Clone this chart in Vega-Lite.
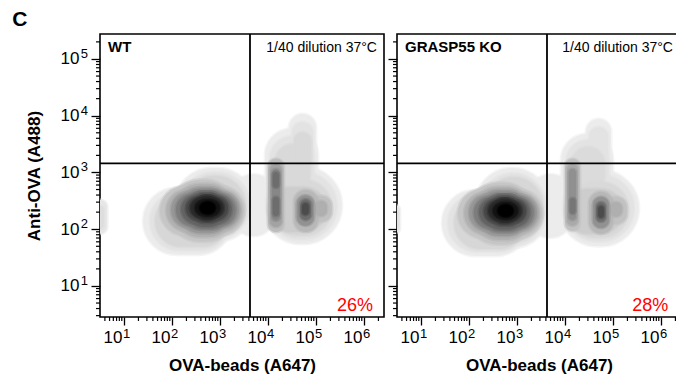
{
  "$schema": "https://vega.github.io/schema/vega-lite/v6.json",
  "padding": {"left": 12, "top": 9, "right": 0, "bottom": 0},
  "title": {"text": "C", "anchor": "start", "frame": "bounds", "fontSize": 21, "fontWeight": "bold", "font": "Liberation Sans", "color": "#000", "dx": -12, "offset": 2},
  "spacing": 0,
  "config": {
    "font": "Liberation Sans",
    "axis": {"domain": false, "grid": false, "labelFont": "Liberation Sans", "titleFont": "Liberation Sans", "labelColor": "#000", "titleColor": "#000", "tickColor": "#000"},
    "view": {"stroke": "#000", "strokeWidth": 1.6},
    "text": {"font": "Liberation Sans"}
  },
  "datasets": {
    "density": [
      {"panel":"WT","x1":1.40,"x2":3.25,"y1":2.73,"y2":1.55,"d":0},
      {"panel":"WT","x1":2.06,"x2":3.71,"y1":3.08,"y2":1.78,"d":0},
      {"panel":"WT","x1":1.54,"x2":3.21,"y1":2.66,"y2":1.62,"d":0.04},
      {"panel":"WT","x1":2.17,"x2":3.63,"y1":3.01,"y2":1.83,"d":0.04},
      {"panel":"WT","x1":1.65,"x2":3.17,"y1":2.60,"y2":1.69,"d":0.09},
      {"panel":"WT","x1":2.25,"x2":3.54,"y1":2.94,"y2":1.88,"d":0.09},
      {"panel":"WT","x1":1.75,"x2":3.52,"y1":2.76,"y2":1.89,"d":0.16},
      {"panel":"WT","x1":1.93,"x2":3.34,"y1":2.87,"y2":1.78,"d":0.16},
      {"panel":"WT","x1":1.88,"x2":3.46,"y1":2.70,"y2":1.96,"d":0.25},
      {"panel":"WT","x1":2.03,"x2":3.30,"y1":2.80,"y2":1.86,"d":0.25},
      {"panel":"WT","x1":1.98,"x2":3.40,"y1":2.66,"y2":2.02,"d":0.36},
      {"panel":"WT","x1":2.12,"x2":3.25,"y1":2.74,"y2":1.93,"d":0.36},
      {"panel":"WT","x1":2.08,"x2":3.33,"y1":2.62,"y2":2.06,"d":0.47},
      {"panel":"WT","x1":2.21,"x2":3.21,"y1":2.69,"y2":1.99,"d":0.47},
      {"panel":"WT","x1":2.19,"x2":3.25,"y1":2.60,"y2":2.10,"d":0.58},
      {"panel":"WT","x1":2.29,"x2":3.14,"y1":2.66,"y2":2.04,"d":0.58},
      {"panel":"WT","x1":2.29,"x2":3.17,"y1":2.57,"y2":2.16,"d":0.7},
      {"panel":"WT","x1":2.38,"x2":3.08,"y1":2.62,"y2":2.11,"d":0.7},
      {"panel":"WT","x1":2.38,"x2":3.08,"y1":2.54,"y2":2.21,"d":0.82},
      {"panel":"WT","x1":2.45,"x2":3.01,"y1":2.59,"y2":2.16,"d":0.82},
      {"panel":"WT","x1":2.48,"x2":3.00,"y1":2.50,"y2":2.25,"d":0.92},
      {"panel":"WT","x1":2.53,"x2":2.95,"y1":2.53,"y2":2.22,"d":0.92},
      {"panel":"WT","x1":2.58,"x2":2.90,"y1":2.46,"y2":2.29,"d":1},
      {"panel":"WT","x1":2.62,"x2":2.87,"y1":2.48,"y2":2.27,"d":1},
      {"panel":"WT","x1":3.25,"x2":4.15,"y1":2.97,"y2":1.88,"d":0},
      {"panel":"WT","x1":3.88,"x2":5.54,"y1":3.10,"y2":1.74,"d":0},
      {"panel":"WT","x1":3.94,"x2":5.04,"y1":3.77,"y2":2.48,"d":0},
      {"panel":"WT","x1":4.44,"x2":5.00,"y1":4.03,"y2":3.10,"d":0},
      {"panel":"WT","x1":3.96,"x2":5.44,"y1":3.01,"y2":1.81,"d":0.04},
      {"panel":"WT","x1":4.04,"x2":4.96,"y1":3.64,"y2":2.57,"d":0.04},
      {"panel":"WT","x1":4.50,"x2":4.94,"y1":3.89,"y2":3.19,"d":0.04},
      {"panel":"WT","x1":4.04,"x2":5.33,"y1":2.87,"y2":1.88,"d":0.08},
      {"panel":"WT","x1":4.15,"x2":4.88,"y1":3.50,"y2":2.66,"d":0.08},
      {"panel":"WT","x1":4.54,"x2":4.90,"y1":3.71,"y2":3.10,"d":0.08},
      {"panel":"WT","x1":4.00,"x2":5.21,"y1":2.74,"y2":1.95,"d":0.13},
      {"panel":"WT","x1":4.00,"x2":4.33,"y1":3.24,"y2":1.95,"d":0.2},
      {"panel":"WT","x1":4.04,"x2":4.29,"y1":3.15,"y2":2.04,"d":0.31},
      {"panel":"WT","x1":4.08,"x2":4.25,"y1":3.06,"y2":2.15,"d":0.43},
      {"panel":"WT","x1":4.10,"x2":4.23,"y1":3.01,"y2":2.73,"d":0.54},
      {"panel":"WT","x1":4.10,"x2":4.23,"y1":2.57,"y2":2.23,"d":0.54},
      {"panel":"WT","x1":4.54,"x2":5.04,"y1":2.69,"y2":1.95,"d":0.22},
      {"panel":"WT","x1":4.60,"x2":4.96,"y1":2.60,"y2":2.06,"d":0.38},
      {"panel":"WT","x1":4.67,"x2":4.90,"y1":2.53,"y2":2.16,"d":0.54},
      {"panel":"WT","x1":4.71,"x2":4.85,"y1":2.46,"y2":2.25,"d":0.68},
      {"panel":"WT","x1":4.90,"x2":5.33,"y1":2.59,"y2":2.13,"d":0.18},
      {"panel":"WT","x1":4.98,"x2":5.23,"y1":2.50,"y2":2.23,"d":0.26},
      {"panel":"WT","x1":0.35,"x2":0.65,"y1":2.52,"y2":1.92,"d":0.02},
      {"panel":"WT","x1":0.40,"x2":0.58,"y1":2.41,"y2":2.00,"d":0.06},
      {"panel":"GRASP55 KO","x1":1.44,"x2":3.25,"y1":2.69,"y2":1.53,"d":0},
      {"panel":"GRASP55 KO","x1":2.13,"x2":3.67,"y1":3.08,"y2":1.67,"d":0},
      {"panel":"GRASP55 KO","x1":1.56,"x2":3.21,"y1":2.62,"y2":1.60,"d":0.04},
      {"panel":"GRASP55 KO","x1":2.23,"x2":3.60,"y1":2.99,"y2":1.72,"d":0.04},
      {"panel":"GRASP55 KO","x1":1.69,"x2":3.17,"y1":2.57,"y2":1.65,"d":0.09},
      {"panel":"GRASP55 KO","x1":2.31,"x2":3.54,"y1":2.92,"y2":1.78,"d":0.09},
      {"panel":"GRASP55 KO","x1":1.77,"x2":3.54,"y1":2.71,"y2":1.84,"d":0.16},
      {"panel":"GRASP55 KO","x1":1.95,"x2":3.36,"y1":2.82,"y2":1.73,"d":0.16},
      {"panel":"GRASP55 KO","x1":1.90,"x2":3.48,"y1":2.65,"y2":1.91,"d":0.25},
      {"panel":"GRASP55 KO","x1":2.05,"x2":3.32,"y1":2.75,"y2":1.81,"d":0.25},
      {"panel":"GRASP55 KO","x1":2.00,"x2":3.42,"y1":2.61,"y2":1.97,"d":0.36},
      {"panel":"GRASP55 KO","x1":2.14,"x2":3.27,"y1":2.69,"y2":1.88,"d":0.36},
      {"panel":"GRASP55 KO","x1":2.10,"x2":3.35,"y1":2.57,"y2":2.01,"d":0.47},
      {"panel":"GRASP55 KO","x1":2.23,"x2":3.23,"y1":2.64,"y2":1.94,"d":0.47},
      {"panel":"GRASP55 KO","x1":2.21,"x2":3.27,"y1":2.55,"y2":2.05,"d":0.58},
      {"panel":"GRASP55 KO","x1":2.31,"x2":3.16,"y1":2.61,"y2":1.99,"d":0.58},
      {"panel":"GRASP55 KO","x1":2.31,"x2":3.19,"y1":2.52,"y2":2.11,"d":0.7},
      {"panel":"GRASP55 KO","x1":2.40,"x2":3.10,"y1":2.57,"y2":2.06,"d":0.7},
      {"panel":"GRASP55 KO","x1":2.40,"x2":3.10,"y1":2.49,"y2":2.16,"d":0.82},
      {"panel":"GRASP55 KO","x1":2.47,"x2":3.03,"y1":2.54,"y2":2.11,"d":0.82},
      {"panel":"GRASP55 KO","x1":2.50,"x2":3.02,"y1":2.45,"y2":2.20,"d":0.92},
      {"panel":"GRASP55 KO","x1":2.55,"x2":2.97,"y1":2.48,"y2":2.17,"d":0.92},
      {"panel":"GRASP55 KO","x1":2.60,"x2":2.92,"y1":2.41,"y2":2.24,"d":1},
      {"panel":"GRASP55 KO","x1":2.64,"x2":2.89,"y1":2.43,"y2":2.22,"d":1},
      {"panel":"GRASP55 KO","x1":3.25,"x2":4.15,"y1":2.97,"y2":1.85,"d":0},
      {"panel":"GRASP55 KO","x1":3.88,"x2":5.54,"y1":3.04,"y2":1.70,"d":0},
      {"panel":"GRASP55 KO","x1":3.92,"x2":5.00,"y1":3.68,"y2":2.48,"d":0},
      {"panel":"GRASP55 KO","x1":4.44,"x2":4.96,"y1":3.94,"y2":3.10,"d":0},
      {"panel":"GRASP55 KO","x1":3.96,"x2":5.44,"y1":2.96,"y2":1.78,"d":0.04},
      {"panel":"GRASP55 KO","x1":4.02,"x2":4.92,"y1":3.57,"y2":2.57,"d":0.04},
      {"panel":"GRASP55 KO","x1":4.50,"x2":4.90,"y1":3.80,"y2":3.19,"d":0.04},
      {"panel":"GRASP55 KO","x1":4.04,"x2":5.33,"y1":2.83,"y2":1.85,"d":0.08},
      {"panel":"GRASP55 KO","x1":4.13,"x2":4.83,"y1":3.45,"y2":2.66,"d":0.07},
      {"panel":"GRASP55 KO","x1":4.00,"x2":5.21,"y1":2.71,"y2":1.92,"d":0.13},
      {"panel":"GRASP55 KO","x1":4.00,"x2":4.31,"y1":3.24,"y2":1.97,"d":0.18},
      {"panel":"GRASP55 KO","x1":4.04,"x2":4.27,"y1":3.15,"y2":2.06,"d":0.28},
      {"panel":"GRASP55 KO","x1":4.08,"x2":4.23,"y1":3.06,"y2":2.16,"d":0.39},
      {"panel":"GRASP55 KO","x1":4.10,"x2":4.22,"y1":2.55,"y2":2.27,"d":0.5},
      {"panel":"GRASP55 KO","x1":4.50,"x2":5.00,"y1":2.66,"y2":1.92,"d":0.22},
      {"panel":"GRASP55 KO","x1":4.58,"x2":4.92,"y1":2.57,"y2":2.02,"d":0.38},
      {"panel":"GRASP55 KO","x1":4.65,"x2":4.85,"y1":2.48,"y2":2.13,"d":0.54},
      {"panel":"GRASP55 KO","x1":4.69,"x2":4.81,"y1":2.41,"y2":2.20,"d":0.68},
      {"panel":"GRASP55 KO","x1":4.85,"x2":5.29,"y1":2.57,"y2":2.09,"d":0.18},
      {"panel":"GRASP55 KO","x1":4.94,"x2":5.19,"y1":2.48,"y2":2.22,"d":0.26},
      {"panel":"GRASP55 KO","x1":0.35,"x2":0.56,"y1":2.43,"y2":1.93,"d":0.02},
      {"panel":"GRASP55 KO","x1":0.40,"x2":0.52,"y1":2.34,"y2":2.02,"d":0.05}
    ],
    "gates": [
      {"panel":"WT","gx":3.625,"gy":3.16},
      {"panel":"GRASP55 KO","gx":3.625,"gy":3.16}
    ],
    "panels": [
      {"panel":"WT","condition":"1/40 dilution 37°C","lower_right":0.26},
      {"panel":"GRASP55 KO","condition":"1/40 dilution 37°C","lower_right":0.28}
    ],
    "decades": [{"e":1},{"e":2},{"e":3},{"e":4},{"e":5},{"e":6}],
    "minor_x": [
      {"v":0.602},{"v":0.699},{"v":0.778},{"v":0.845},{"v":0.903},{"v":0.954},
      {"v":1.301},{"v":1.477},{"v":1.602},{"v":1.699},{"v":1.778},{"v":1.845},{"v":1.903},{"v":1.954},
      {"v":2.301},{"v":2.477},{"v":2.602},{"v":2.699},{"v":2.778},{"v":2.845},{"v":2.903},{"v":2.954},
      {"v":3.301},{"v":3.477},{"v":3.602},{"v":3.699},{"v":3.778},{"v":3.845},{"v":3.903},{"v":3.954},
      {"v":4.301},{"v":4.477},{"v":4.602},{"v":4.699},{"v":4.778},{"v":4.845},{"v":4.903},{"v":4.954},
      {"v":5.301},{"v":5.477},{"v":5.602},{"v":5.699},{"v":5.778},{"v":5.845},{"v":5.903},{"v":5.954},
      {"v":6.301}
    ],
    "minor_y": [
      {"v":0.477},{"v":0.602},{"v":0.699},{"v":0.778},{"v":0.845},{"v":0.903},{"v":0.954},
      {"v":1.301},{"v":1.477},{"v":1.602},{"v":1.699},{"v":1.778},{"v":1.845},{"v":1.903},{"v":1.954},
      {"v":2.301},{"v":2.477},{"v":2.602},{"v":2.699},{"v":2.778},{"v":2.845},{"v":2.903},{"v":2.954},
      {"v":3.301},{"v":3.477},{"v":3.602},{"v":3.699},{"v":3.778},{"v":3.845},{"v":3.903},{"v":3.954},
      {"v":4.301},{"v":4.477},{"v":4.602},{"v":4.699},{"v":4.778},{"v":4.845},{"v":4.903},{"v":4.954},
      {"v":5.301}
    ]
  },
  "hconcat": [
    {
      "width": 284, "height": 283,
      "layer": [
        {
          "data": {"name": "density"},
          "transform": [{"filter": {"field": "panel", "equal": "WT"}}],
          "mark": {"type": "rect", "cornerRadius": 999, "clip": true, "strokeWidth": 3, "strokeOpacity": 0.5},
          "encoding": {
            "x": {"field": "x1", "type": "quantitative", "scale": {"domain": [0.5, 6.417], "nice": false, "zero": false},
              "axis": {"orient": "bottom", "values": [1,2,3,4,5,6], "labelExpr": "'10'", "labelAlign": "right", "labelOffset": -2,
                "tickSize": 8, "tickWidth": 1.3, "labelFontSize": 17, "labelPadding": 4, "labelFlush": false,
                "title": "OVA-beads (A647)", "titleFontSize": 17, "titleFontWeight": "bold", "titlePadding": 12}},
            "x2": {"field": "x2"},
            "y": {"field": "y1", "type": "quantitative", "scale": {"domain": [0.453, 5.44], "nice": false, "zero": false},
              "axis": {"orient": "left", "values": [1,2,3,4,5], "labelExpr": "'10'",
                "tickSize": 9, "tickWidth": 1.3, "labelFontSize": 17, "labelPadding": 12, "labelFlush": false,
                "title": "Anti-OVA (A488)", "titleFontSize": 17, "titleFontWeight": "bold", "titlePadding": 17}},
            "y2": {"field": "y2"},
            "color": {"field": "d", "type": "quantitative", "scale": {"domain": [0, 1], "range": ["#ececec", "#000000"], "interpolate": "rgb"}, "legend": null},
            "stroke": {"field": "d", "type": "quantitative", "scale": {"domain": [0, 1], "range": ["#ececec", "#000000"], "interpolate": "rgb"}, "legend": null},
            "order": {"field": "d", "type": "quantitative"}
          }
        },
        {
          "data": {"name": "minor_x"},
          "mark": {"type": "rule", "color": "#000", "strokeWidth": 1.2},
          "encoding": {"x": {"field": "v", "type": "quantitative"}, "y": {"datum": 0.453, "type": "quantitative"}, "y2": {"datum": 0.383}}
        },
        {
          "data": {"name": "minor_y"},
          "mark": {"type": "rule", "color": "#000", "strokeWidth": 1.2},
          "encoding": {"y": {"field": "v", "type": "quantitative"}, "x": {"datum": 0.5, "type": "quantitative"}, "x2": {"datum": 0.417}}
        },
        {
          "data": {"name": "decades"},
          "mark": {"type": "text", "align": "left", "baseline": "middle", "fontSize": 13, "dx": -1, "dy": 16.5, "color": "#000"},
          "encoding": {"x": {"field": "e", "type": "quantitative"}, "y": {"datum": 0.453, "type": "quantitative"}, "text": {"field": "e", "type": "nominal"}}
        },
        {
          "data": {"name": "decades"},
          "transform": [{"filter": "datum.e <= 5"}],
          "mark": {"type": "text", "align": "right", "baseline": "middle", "fontSize": 13, "dx": -12, "dy": -5, "color": "#000"},
          "encoding": {"y": {"field": "e", "type": "quantitative"}, "x": {"datum": 0.5, "type": "quantitative"}, "text": {"field": "e", "type": "nominal"}}
        },
        {
          "data": {"name": "gates"},
          "transform": [{"filter": {"field": "panel", "equal": "WT"}}],
          "mark": {"type": "rule", "color": "#000", "strokeWidth": 1.8},
          "encoding": {"x": {"field": "gx", "type": "quantitative"}}
        },
        {
          "data": {"name": "gates"},
          "transform": [{"filter": {"field": "panel", "equal": "WT"}}],
          "mark": {"type": "rule", "color": "#000", "strokeWidth": 1.8},
          "encoding": {"y": {"field": "gy", "type": "quantitative"}}
        },
        {
          "data": {"name": "panels"},
          "transform": [{"filter": {"field": "panel", "equal": "WT"}}],
          "mark": {"type": "text", "align": "left", "baseline": "alphabetic", "fontSize": 15, "fontWeight": "bold", "color": "#000"},
          "encoding": {"x": {"datum": 0.667, "type": "quantitative"}, "y": {"datum": 5.12, "type": "quantitative"}, "text": {"field": "panel"}}
        },
        {
          "data": {"name": "panels"},
          "transform": [{"filter": {"field": "panel", "equal": "WT"}}],
          "mark": {"type": "text", "align": "right", "baseline": "alphabetic", "fontSize": 14, "color": "#000"},
          "encoding": {"x": {"datum": 6.27, "type": "quantitative"}, "y": {"datum": 5.12, "type": "quantitative"}, "text": {"field": "condition"}}
        },
        {
          "data": {"name": "panels"},
          "transform": [{"filter": {"field": "panel", "equal": "WT"}}],
          "mark": {"type": "text", "align": "right", "baseline": "alphabetic", "fontSize": 18, "color": "#ff0000"},
          "encoding": {"x": {"datum": 6.19, "type": "quantitative"}, "y": {"datum": 0.56, "type": "quantitative"}, "text": {"field": "lower_right", "type": "quantitative", "format": ".0%"}}
        }
      ]
    },
    {
      "width": 284, "height": 283,
      "layer": [
        {
          "data": {"name": "density"},
          "transform": [{"filter": {"field": "panel", "equal": "GRASP55 KO"}}],
          "mark": {"type": "rect", "cornerRadius": 999, "clip": true, "strokeWidth": 3, "strokeOpacity": 0.5},
          "encoding": {
            "x": {"field": "x1", "type": "quantitative", "scale": {"domain": [0.5, 6.417], "nice": false, "zero": false},
              "axis": {"orient": "bottom", "values": [1,2,3,4,5,6], "labelExpr": "'10'", "labelAlign": "right", "labelOffset": -2,
                "tickSize": 8, "tickWidth": 1.3, "labelFontSize": 17, "labelPadding": 4, "labelFlush": false,
                "title": "OVA-beads (A647)", "titleFontSize": 17, "titleFontWeight": "bold", "titlePadding": 12}},
            "x2": {"field": "x2"},
            "y": {"field": "y1", "type": "quantitative", "scale": {"domain": [0.453, 5.44], "nice": false, "zero": false},
              "axis": {"orient": "left", "values": [1,2,3,4,5], "labels": false, "title": null, "tickSize": 9, "tickWidth": 1.3}},
            "y2": {"field": "y2"},
            "color": {"field": "d", "type": "quantitative", "scale": {"domain": [0, 1], "range": ["#ececec", "#000000"], "interpolate": "rgb"}, "legend": null},
            "stroke": {"field": "d", "type": "quantitative", "scale": {"domain": [0, 1], "range": ["#ececec", "#000000"], "interpolate": "rgb"}, "legend": null},
            "order": {"field": "d", "type": "quantitative"}
          }
        },
        {
          "data": {"name": "minor_x"},
          "mark": {"type": "rule", "color": "#000", "strokeWidth": 1.2},
          "encoding": {"x": {"field": "v", "type": "quantitative"}, "y": {"datum": 0.453, "type": "quantitative"}, "y2": {"datum": 0.383}}
        },
        {
          "data": {"name": "minor_y"},
          "mark": {"type": "rule", "color": "#000", "strokeWidth": 1.2},
          "encoding": {"y": {"field": "v", "type": "quantitative"}, "x": {"datum": 0.5, "type": "quantitative"}, "x2": {"datum": 0.417}}
        },
        {
          "data": {"name": "decades"},
          "mark": {"type": "text", "align": "left", "baseline": "middle", "fontSize": 13, "dx": -1, "dy": 16.5, "color": "#000"},
          "encoding": {"x": {"field": "e", "type": "quantitative"}, "y": {"datum": 0.453, "type": "quantitative"}, "text": {"field": "e", "type": "nominal"}}
        },
        {
          "data": {"name": "gates"},
          "transform": [{"filter": {"field": "panel", "equal": "GRASP55 KO"}}],
          "mark": {"type": "rule", "color": "#000", "strokeWidth": 1.8},
          "encoding": {"x": {"field": "gx", "type": "quantitative"}}
        },
        {
          "data": {"name": "gates"},
          "transform": [{"filter": {"field": "panel", "equal": "GRASP55 KO"}}],
          "mark": {"type": "rule", "color": "#000", "strokeWidth": 1.8},
          "encoding": {"y": {"field": "gy", "type": "quantitative"}}
        },
        {
          "data": {"name": "panels"},
          "transform": [{"filter": {"field": "panel", "equal": "GRASP55 KO"}}],
          "mark": {"type": "text", "align": "left", "baseline": "alphabetic", "fontSize": 15, "fontWeight": "bold", "color": "#000"},
          "encoding": {"x": {"datum": 0.667, "type": "quantitative"}, "y": {"datum": 5.12, "type": "quantitative"}, "text": {"field": "panel"}}
        },
        {
          "data": {"name": "panels"},
          "transform": [{"filter": {"field": "panel", "equal": "GRASP55 KO"}}],
          "mark": {"type": "text", "align": "right", "baseline": "alphabetic", "fontSize": 14, "color": "#000"},
          "encoding": {"x": {"datum": 6.25, "type": "quantitative"}, "y": {"datum": 5.12, "type": "quantitative"}, "text": {"field": "condition"}}
        },
        {
          "data": {"name": "panels"},
          "transform": [{"filter": {"field": "panel", "equal": "GRASP55 KO"}}],
          "mark": {"type": "text", "align": "right", "baseline": "alphabetic", "fontSize": 18, "color": "#ff0000"},
          "encoding": {"x": {"datum": 6.15, "type": "quantitative"}, "y": {"datum": 0.56, "type": "quantitative"}, "text": {"field": "lower_right", "type": "quantitative", "format": ".0%"}}
        }
      ]
    }
  ]
}
